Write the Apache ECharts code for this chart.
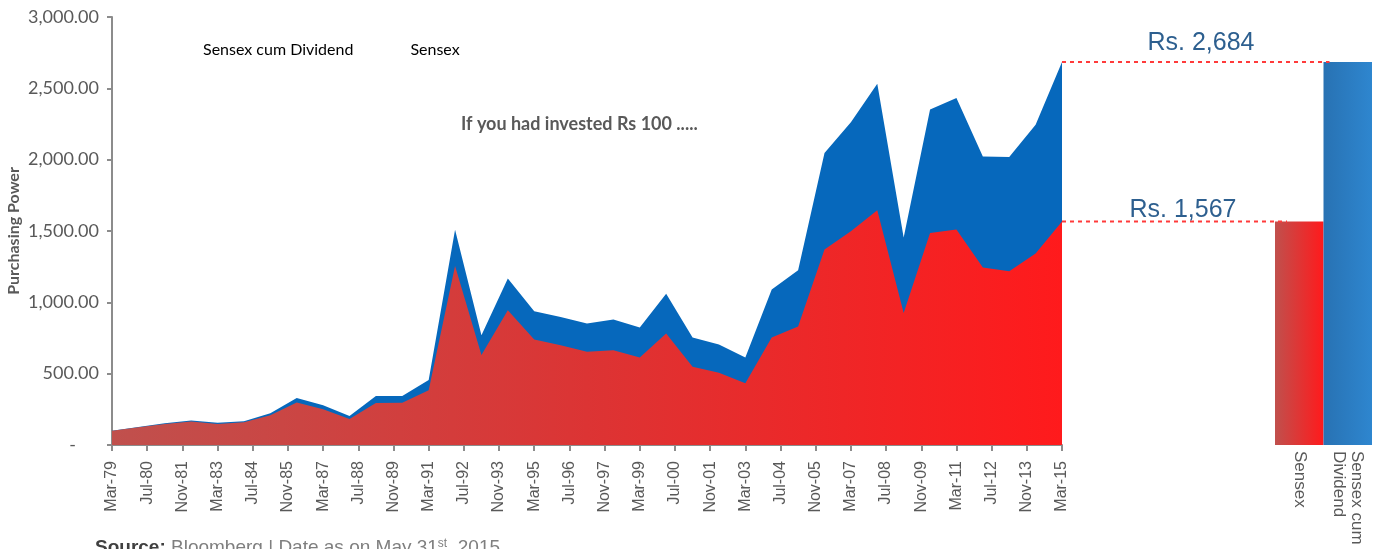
<!DOCTYPE html>
<html>
<head>
<meta charset="utf-8">
<script src="https://cdn.jsdelivr.net/npm/echarts@6/dist/echarts.min.js"></script>
<style>
html,body{margin:0;padding:0;background:#fff;}
#chart{width:1376px;height:549px;}
</style>
</head>
<body>
<div id="chart"></div>
<script>
// ---- data ----
const pointLabels = ['Mar-79','Mar-80','Mar-81','Mar-82','Mar-83','Mar-84','Mar-85','Mar-86','Mar-87','Mar-88',
  'Mar-89','Mar-90','Mar-91','Mar-92','Mar-93','Mar-94','Mar-95','Mar-96','Mar-97','Mar-98','Mar-99','Mar-00',
  'Mar-01','Mar-02','Mar-03','Mar-04','Mar-05','Mar-06','Mar-07','Mar-08','Mar-09','Mar-10','Mar-11','Mar-12',
  'Mar-13','Mar-14','Mar-15'];
const sensex = [100,124,147,165,148,159,208,298,250,182,294,296,383,1255,630,945,740,700,653,665,614,781,
  548,506,432,754,830,1370,1498,1645,926,1486,1510,1244,1218,1342,1567];
const sensexCumDividend = [100,126,152,171,156,166,222,330,279,203,343,343,455,1508,770,1167,938,898,851,879,
  824,1061,754,705,614,1090,1225,2046,2263,2532,1454,2352,2433,2023,2018,2245,2684];
const tickLabels = ['Mar-79','Jul-80','Nov-81','Mar-83','Jul-84','Nov-85','Mar-87','Jul-88','Nov-89','Mar-91',
  'Jul-92','Nov-93','Mar-95','Jul-96','Nov-97','Mar-99','Jul-00','Nov-01','Mar-03','Jul-04','Nov-05','Mar-07',
  'Jul-08','Nov-09','Mar-11','Jul-12','Nov-13','Mar-15'];
const barCategories = ['Sensex', 'Sensex cum\nDividend'];
const finalValues = [sensex[sensex.length - 1], sensexCumDividend[sensexCumDividend.length - 1]];
const finalLabels = ['Rs. 1,567', 'Rs. 2,684'];
const tickStepMonths = 16;
const monthsPerPoint = 12;

// ---- build ----
const toPairs = arr => arr.map((v, i) => [i * monthsPerPoint, v]);
const lastMonth = (pointLabels.length - 1) * monthsPerPoint;

const grey = '#595959';
const axisGrey = '#8c8c8c';
const redGrad = new echarts.graphic.LinearGradient(0, 0, 1, 0, [
  {offset: 0, color: '#c0504d'}, {offset: 0.5, color: '#dc3434'}, {offset: 1, color: '#ff1a1c'}]);
const redBarGrad = new echarts.graphic.LinearGradient(0, 0, 1, 0, [
  {offset: 0, color: '#c0504d'}, {offset: 1, color: '#ff1a1c'}]);
const blueBarGrad = new echarts.graphic.LinearGradient(0, 0, 1, 0, [
  {offset: 0, color: '#2872b3'}, {offset: 1, color: '#2e86cf'}]);

const chart = echarts.init(document.getElementById('chart'), null, {renderer: 'canvas'});
const option = {
  animation: false,
  backgroundColor: '#ffffff',
  title: {
    text: 'If you had invested Rs 100 .....',
    left: 456, top: 110,
    textStyle: {fontFamily: 'Lato', fontWeight: 'bold', fontSize: 18, color: grey}
  },
  legend: {
    data: ['Sensex cum Dividend', 'Sensex'],
    left: 193, top: 37,
    icon: 'none', itemWidth: 0, itemGap: 52,
    textStyle: {fontFamily: 'Lato', fontSize: 16, color: '#000'}
  },
  grid: [
    {left: 112, right: 314, top: 17, bottom: 104, outerBoundsMode: 'none', containLabel: false},
    {left: 1275, right: 4, top: 17, bottom: 104, outerBoundsMode: 'none', containLabel: false}
  ],
  xAxis: [
    {
      type: 'value', gridIndex: 0, min: 0, max: lastMonth, interval: tickStepMonths,
      splitLine: {show: false},
      axisLine: {show: true, lineStyle: {color: axisGrey, width: 2}},
      axisTick: {show: true, length: 6, lineStyle: {color: axisGrey, width: 2}},
      axisLabel: {
        rotate: 90, margin: 16, color: grey, fontFamily: 'Liberation Sans', fontSize: 16,
        showMinLabel: true, showMaxLabel: true,
        formatter: v => tickLabels[Math.round(v / tickStepMonths)] || ''
      }
    },
    {
      type: 'category', gridIndex: 1, data: barCategories,
      axisLine: {show: false}, axisTick: {show: false},
      axisLabel: {rotate: -90, margin: 6, color: grey, fontFamily: 'Liberation Sans', fontSize: 17, lineHeight: 18, interval: 0}
    }
  ],
  yAxis: [
    {
      type: 'value', gridIndex: 0, min: 0, max: 3000, interval: 500,
      name: 'Purchasing Power', nameLocation: 'middle', nameGap: 90, nameMoveOverlap: false,
      nameTextStyle: {fontFamily: 'Lato', fontWeight: 'bold', fontSize: 16, color: grey},
      splitLine: {show: false},
      axisLine: {show: true, lineStyle: {color: axisGrey, width: 2}},
      axisTick: {show: true, length: 5, lineStyle: {color: axisGrey, width: 2}},
      axisLabel: {
        margin: 13, color: grey, fontFamily: 'Lato', fontSize: 18,
        formatter: v => v === 0 ? '-     ' : v.toLocaleString('en-US', {minimumFractionDigits: 2, maximumFractionDigits: 2})
      }
    },
    {type: 'value', gridIndex: 1, min: 0, max: 3000, show: false}
  ],
  series: [
    {
      name: 'Sensex cum Dividend', type: 'line', xAxisIndex: 0, yAxisIndex: 0,
      data: toPairs(sensexCumDividend), symbol: 'none', lineStyle: {width: 0},
      itemStyle: {color: '#0668bc'}, areaStyle: {color: '#0668bc', opacity: 1}, z: 2
    },
    {
      name: 'Sensex', type: 'line', xAxisIndex: 0, yAxisIndex: 0,
      data: toPairs(sensex), symbol: 'none', lineStyle: {width: 0},
      itemStyle: {color: '#dc3434'}, areaStyle: {color: redGrad, opacity: 1}, z: 3
    },
    {
      name: 'Final', type: 'bar', xAxisIndex: 1, yAxisIndex: 1,
      barWidth: '100%', barCategoryGap: 0,
      data: [
        {value: finalValues[0], itemStyle: {color: redBarGrad}},
        {value: finalValues[1], itemStyle: {color: blueBarGrad}}
      ],
      z: 2
    }
  ]
};
chart.setOption(option);

// reference lines and labels placed from the library's own scales
const endX = chart.convertToPixel({xAxisIndex: 0}, lastMonth);
const c0 = chart.convertToPixel({xAxisIndex: 1}, barCategories[0]);
const c1 = chart.convertToPixel({xAxisIndex: 1}, barCategories[1]);
const half = (c1 - c0) / 2;
const yLow = chart.convertToPixel({yAxisIndex: 0}, finalValues[0]);
const yHigh = chart.convertToPixel({yAxisIndex: 0}, finalValues[1]);
const lowEnd = c0 - half + 12;
const highEnd = c1 - half + 6;
const dash = {stroke: '#ff3b3b', lineWidth: 2, lineDash: [4, 4]};
const labelStyle = (text, x, y) => ({
  type: 'text', x: x, y: y, z: 100,
  style: {text: text, fill: '#2d5f8f', font: '25px "Liberation Sans", Arial, sans-serif', textAlign: 'center', textVerticalAlign: 'bottom'}
});
chart.setOption({
  graphic: [
    {type: 'line', z: 100, shape: {x1: endX, y1: yHigh, x2: highEnd, y2: yHigh}, style: dash},
    {type: 'line', z: 100, shape: {x1: endX, y1: yLow, x2: lowEnd, y2: yLow}, style: dash},
    labelStyle(finalLabels[1], endX + 139, yHigh - 6),
    labelStyle(finalLabels[0], endX + 121, yLow + 1),
    {
      type: 'text', x: 95, y: 538, z: 100,
      style: {
        text: '{b|Source:} Bloomberg | Date as on May 31{s|st}, 2015',
        font: '19px "Liberation Sans", Arial, sans-serif', fill: '#7f7f7f', textVerticalAlign: 'top',
        rich: {
          b: {fontWeight: 'bold', fill: '#404040', fontSize: 19, fontFamily: 'Liberation Sans'},
          s: {fontSize: 12, verticalAlign: 'top', fill: '#7f7f7f', fontFamily: 'Liberation Sans'}
        }
      }
    }
  ]
});
</script>
</body>
</html>
